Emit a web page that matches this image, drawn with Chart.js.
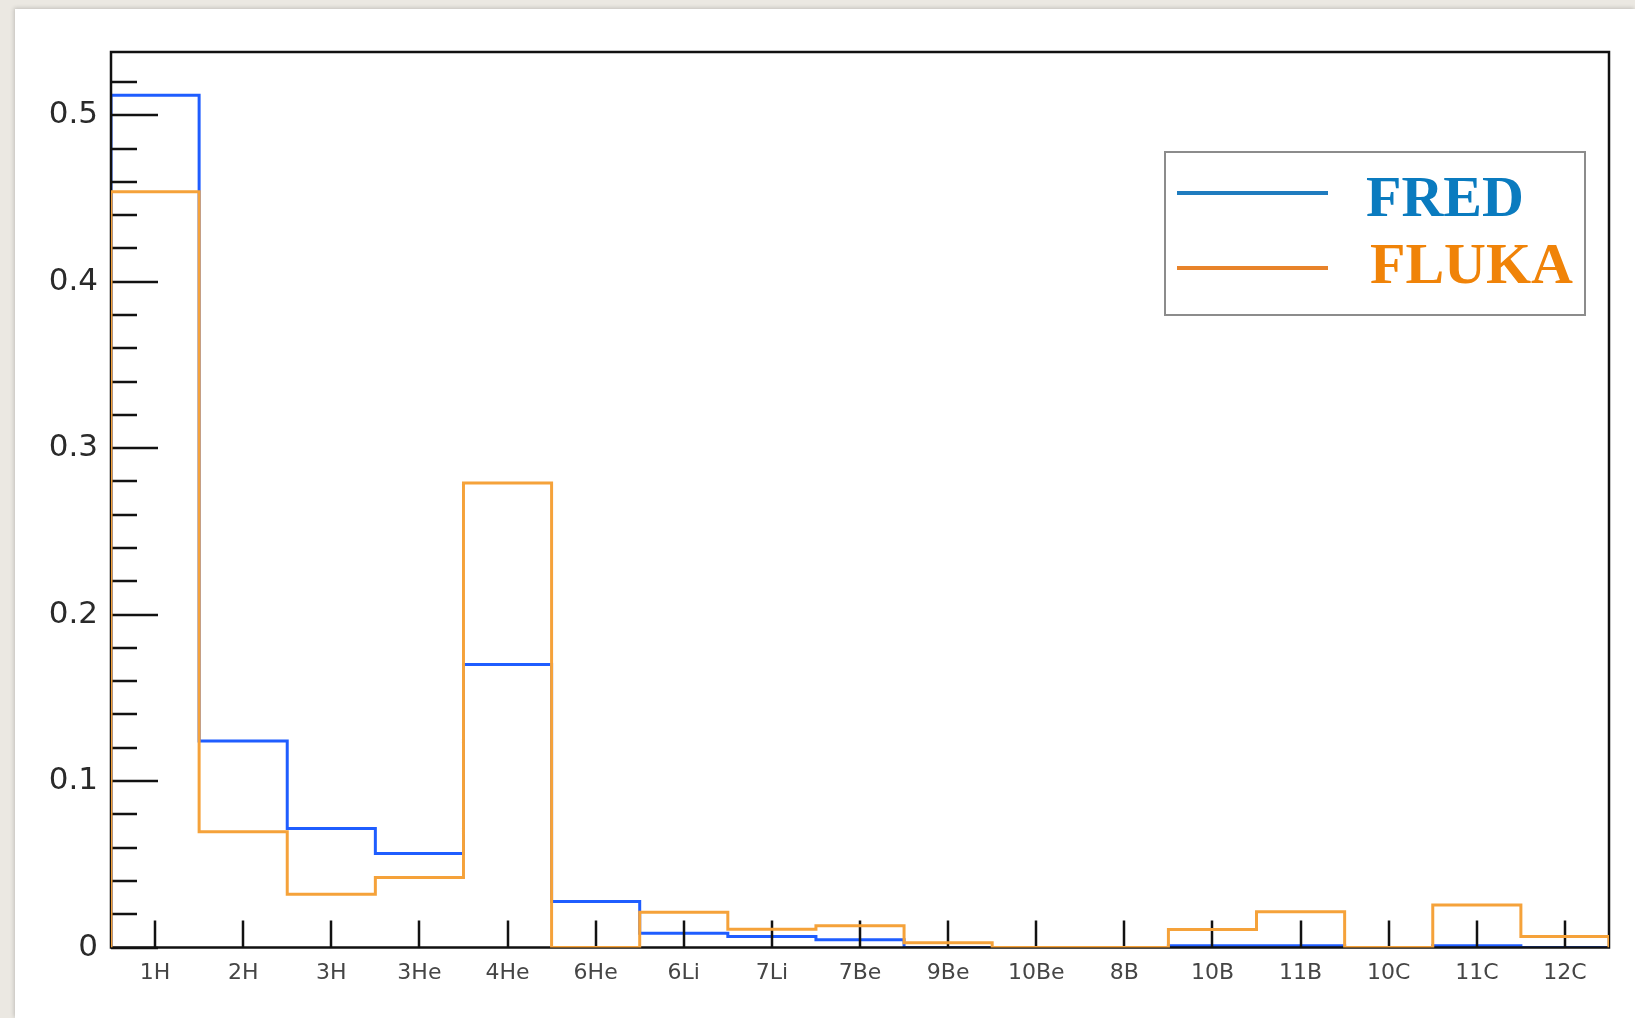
<!DOCTYPE html>
<html>
<head>
<meta charset="utf-8">
<title>FRED vs FLUKA</title>
<script src="https://cdn.jsdelivr.net/npm/chart.js@4.4.1/dist/chart.umd.min.js"></script>
<style>
    html, body { margin: 0; padding: 0; }
    body { width: 1635px; height: 1018px; background: #ebe8e2; position: relative; overflow: hidden; }
    .panel { position: absolute; left: 15px; top: 9px; right: 0; bottom: 0; background: #ffffff; box-shadow: -1px -1px 4px rgba(0,0,0,0.18); }
    .contenedor { position: absolute; left: 0; top: 0; width: 1635px; height: 1018px; }
</style>
</head>
<body>
<div class="panel"></div>
<div class="contenedor"><canvas id="graficaFragmentos"></canvas></div>
<script>
const isotopos = ['1H', '2H', '3H', '3He', '4He', '6He', '6Li', '7Li', '7Be', '9Be', '10Be', '8B', '10B', '11B', '10C', '11C', '12C'];
const valoresFred = [0.512, 0.124, 0.0715, 0.0565, 0.170, 0.0276, 0.0085, 0.0066, 0.0046, 0, 0, 0, 0.001, 0.001, 0, 0.001, 0];
const valoresFluka = [0.454, 0.0695, 0.032, 0.042, 0.279, 0, 0.0212, 0.011, 0.013, 0.0028, 0, 0, 0.0108, 0.0215, 0, 0.0256, 0.0066];
const ticksY = [0, 0.1, 0.2, 0.3, 0.4, 0.5];
const maximoY = 0.538;

// contorno de histograma: un punto por borde inferior de cada bin
function puntosHistograma(valores) {
    const puntos = [{ x: 0, y: 0 }];
    valores.forEach(function(v, i) {
        puntos.push({ x: i, y: v });
    });
    puntos.push({ x: valores.length, y: 0 });
    return puntos;
}

const pluginMarco = {
    id: 'marco',
    beforeDatasetDraw: function(grafica, args) {
        if (grafica.data.datasets[args.index].label !== 'FLUKA') return;
        const ctx = grafica.ctx;
        const area = grafica.chartArea;
        const ejeX = grafica.scales.x;
        const ejeY = grafica.scales.y;
        ctx.save();
        ctx.strokeStyle = '#111111';
        ctx.lineWidth = 2.5;
        ctx.strokeRect(area.left, area.top, area.right - area.left, area.bottom - area.top);
        ctx.beginPath();
        for (let k = 0; k * 0.02 <= ejeY.max; k++) {
            const py = Math.round(ejeY.getPixelForValue(k * 0.02));
            const largo = k % 5 === 0 ? 47 : 26;
            ctx.moveTo(area.left, py);
            ctx.lineTo(area.left + largo, py);
        }
        isotopos.forEach(function(nombre, i) {
            const px = Math.round(ejeX.getPixelForValue(i + 0.5));
            ctx.moveTo(px, area.bottom);
            ctx.lineTo(px, area.bottom - 27);
        });
        ctx.stroke();
        ctx.restore();
    }
};

const pluginLeyenda = {
    id: 'leyendaRoot',
    afterDraw: function(grafica) {
        const ctx = grafica.ctx;
        ctx.save();
        ctx.fillStyle = '#ffffff';
        ctx.fillRect(1165, 152, 420, 163);
        ctx.strokeStyle = '#8c8c8c';
        ctx.lineWidth = 2;
        ctx.strokeRect(1165, 152, 420, 163);

        ctx.lineWidth = 4;
        ctx.strokeStyle = '#1f7cbf';
        ctx.beginPath();
        ctx.moveTo(1177, 193);
        ctx.lineTo(1328, 193);
        ctx.stroke();
        ctx.strokeStyle = '#e8832a';
        ctx.beginPath();
        ctx.moveTo(1177, 268);
        ctx.lineTo(1328, 268);
        ctx.stroke();

        ctx.font = 'bold 58px "Liberation Serif", serif';
        ctx.textBaseline = 'alphabetic';
        ctx.textAlign = 'left';
        ctx.fillStyle = '#0a7bbf';
        ctx.fillText('FRED', 1366, 216);
        ctx.fillStyle = '#f08308';
        ctx.fillText('FLUKA', 1370, 283);
        ctx.restore();
    }
};

document.addEventListener('DOMContentLoaded', function() {
    const contexto = document.getElementById('graficaFragmentos');
    new Chart(contexto, {
        type: 'line',
        data: {
            datasets: [{
                label: 'FRED',
                data: puntosHistograma(valoresFred),
                borderColor: '#1f5dff',
                borderWidth: 3,
                stepped: true,
                fill: false,
                pointRadius: 0,
                order: 2
            },
            {
                label: 'FLUKA',
                data: puntosHistograma(valoresFluka),
                borderColor: '#f5a23a',
                borderWidth: 3,
                stepped: true,
                fill: false,
                pointRadius: 0,
                order: 1
            }]
        },
        options: {
            responsive: true,
            maintainAspectRatio: false,
            animation: false,
            layout: {
                padding: { top: 52, right: 26, left: 0, bottom: 0 }
            },
            plugins: {
                legend: { display: false },
                tooltip: { enabled: false }
            },
            scales: {
                x: {
                    type: 'linear',
                    min: 0,
                    max: isotopos.length,
                    grid: { display: false },
                    border: { display: false },
                    afterBuildTicks: function(eje) {
                        eje.ticks = isotopos.map(function(nombre, i) { return { value: i + 0.5 }; });
                    },
                    afterFit: function(eje) { eje.height = 70.5; },
                    ticks: {
                        autoSkip: false,
                        maxRotation: 0,
                        padding: 5,
                        color: '#454545',
                        font: { family: '"DejaVu Sans", sans-serif', size: 22 },
                        callback: function(valor, indice) { return isotopos[indice]; }
                    }
                },
                y: {
                    min: 0,
                    max: maximoY,
                    grid: { display: false },
                    border: { display: false },
                    afterBuildTicks: function(eje) {
                        eje.ticks = ticksY.map(function(v) { return { value: v }; });
                    },
                    afterFit: function(eje) { eje.width = 111; },
                    ticks: {
                        padding: 5,
                        color: '#2a2a2a',
                        font: { family: '"DejaVu Sans", sans-serif', size: 31 },
                        callback: function(valor) { return valor === 0 ? '0' : valor.toFixed(1); }
                    }
                }
            }
        },
        plugins: [pluginMarco, pluginLeyenda]
    });
});
</script>
</body>
</html>
